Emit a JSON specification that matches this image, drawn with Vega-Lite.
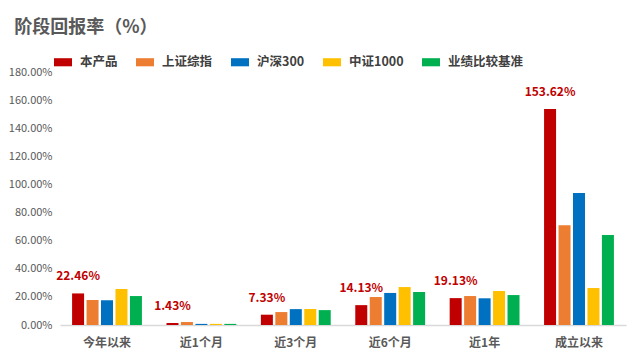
{
  "$schema": "https://vega.github.io/schema/vega-lite/v6.json",
  "autosize": {"type": "none"},
  "padding": {"left": 60, "top": 72, "right": 14, "bottom": 36},
  "width": 566,
  "height": 253,
  "background": "white",
  "config": {
    "view": {"stroke": null},
    "font": "Noto Sans CJK SC"
  },
  "title": {
    "text": "阶段回报率（%）",
    "anchor": "start",
    "frame": "bounds",
    "orient": "top",
    "fontSize": 18,
    "fontWeight": "bold",
    "color": "#595959",
    "font": "Noto Sans CJK SC",
    "offset": 16,
    "dx": 6
  },
  "data": {
    "values": [
      {"period": "今年以来", "series": "本产品", "value": 22.46},
      {"period": "今年以来", "series": "上证综指", "value": 17.8},
      {"period": "今年以来", "series": "沪深300", "value": 17.6},
      {"period": "今年以来", "series": "中证1000", "value": 25.6},
      {"period": "今年以来", "series": "业绩比较基准", "value": 20.6},
      {"period": "近1个月", "series": "本产品", "value": 1.43},
      {"period": "近1个月", "series": "上证综指", "value": 2.1},
      {"period": "近1个月", "series": "沪深300", "value": 0.8},
      {"period": "近1个月", "series": "中证1000", "value": 0.8},
      {"period": "近1个月", "series": "业绩比较基准", "value": 0.8},
      {"period": "近3个月", "series": "本产品", "value": 7.33},
      {"period": "近3个月", "series": "上证综指", "value": 9.2},
      {"period": "近3个月", "series": "沪深300", "value": 11.3},
      {"period": "近3个月", "series": "中证1000", "value": 11.3},
      {"period": "近3个月", "series": "业绩比较基准", "value": 10.6},
      {"period": "近6个月", "series": "本产品", "value": 14.13},
      {"period": "近6个月", "series": "上证综指", "value": 19.9},
      {"period": "近6个月", "series": "沪深300", "value": 22.8},
      {"period": "近6个月", "series": "中证1000", "value": 27.0},
      {"period": "近6个月", "series": "业绩比较基准", "value": 23.5},
      {"period": "近1年", "series": "本产品", "value": 19.13},
      {"period": "近1年", "series": "上证综指", "value": 20.6},
      {"period": "近1年", "series": "沪深300", "value": 19.0},
      {"period": "近1年", "series": "中证1000", "value": 24.2},
      {"period": "近1年", "series": "业绩比较基准", "value": 21.3},
      {"period": "成立以来", "series": "本产品", "value": 153.62},
      {"period": "成立以来", "series": "上证综指", "value": 71.0},
      {"period": "成立以来", "series": "沪深300", "value": 93.9},
      {"period": "成立以来", "series": "中证1000", "value": 26.3},
      {"period": "成立以来", "series": "业绩比较基准", "value": 64.0}
    ]
  },
  "transform": [
    {"calculate": "datum.series === '本产品' ? format(datum.value, '.2f') + '%' : ''", "as": "label"}
  ],
  "encoding": {
    "x": {
      "field": "period",
      "type": "nominal",
      "sort": null,
      "scale": {"paddingInner": 0.26, "paddingOuter": 0.128},
      "axis": {
        "title": null,
        "labelAngle": 0,
        "labelFontSize": 12,
        "labelFontWeight": "bold",
        "labelColor": "#595959",
        "labelPadding": 12,
        "ticks": false,
        "domainColor": "#D9D9D9",
        "domainWidth": 1.5
      }
    },
    "xOffset": {
      "field": "series",
      "type": "nominal",
      "scale": {"domain": ["本产品", "上证综指", "沪深300", "中证1000", "业绩比较基准"], "paddingInner": 0.17, "paddingOuter": 0}
    },
    "y": {
      "field": "value",
      "type": "quantitative",
      "scale": {"domain": [0, 180], "nice": false},
      "axis": {
        "title": null,
        "values": [0, 20, 40, 60, 80, 100, 120, 140, 160, 180],
        "labelExpr": "format(datum.value, '.2f') + '%'",
        "labelFontSize": 11,
        "labelColor": "#595959",
        "labelPadding": 8,
        "ticks": false,
        "domain": false,
        "grid": false
      }
    }
  },
  "layer": [
    {
      "mark": {"type": "bar"},
      "encoding": {
        "color": {
          "field": "series",
          "type": "nominal",
          "scale": {
            "domain": ["本产品", "上证综指", "沪深300", "中证1000", "业绩比较基准"],
            "range": ["#C00000", "#ED7D31", "#0070C0", "#FFC000", "#00B050"]
          },
          "legend": {
            "title": null,
            "orient": "none",
            "direction": "horizontal",
            "legendX": -6,
            "legendY": -19,
            "symbolType": "M-1,-0.45H1V0.45H-1Z",
            "symbolSize": 324,
            "symbolStrokeWidth": 0,
            "labelFontSize": 12.5,
            "labelFontWeight": "bold",
            "labelColor": "#404040",
            "labelOffset": 8,
            "columnPadding": 18
          }
        }
      }
    },
    {
      "mark": {"type": "text", "dy": -10, "fontSize": 12, "fontWeight": "bold", "color": "#C00000", "baseline": "bottom"},
      "encoding": {
        "text": {"field": "label", "type": "nominal"}
      }
    }
  ]
}
